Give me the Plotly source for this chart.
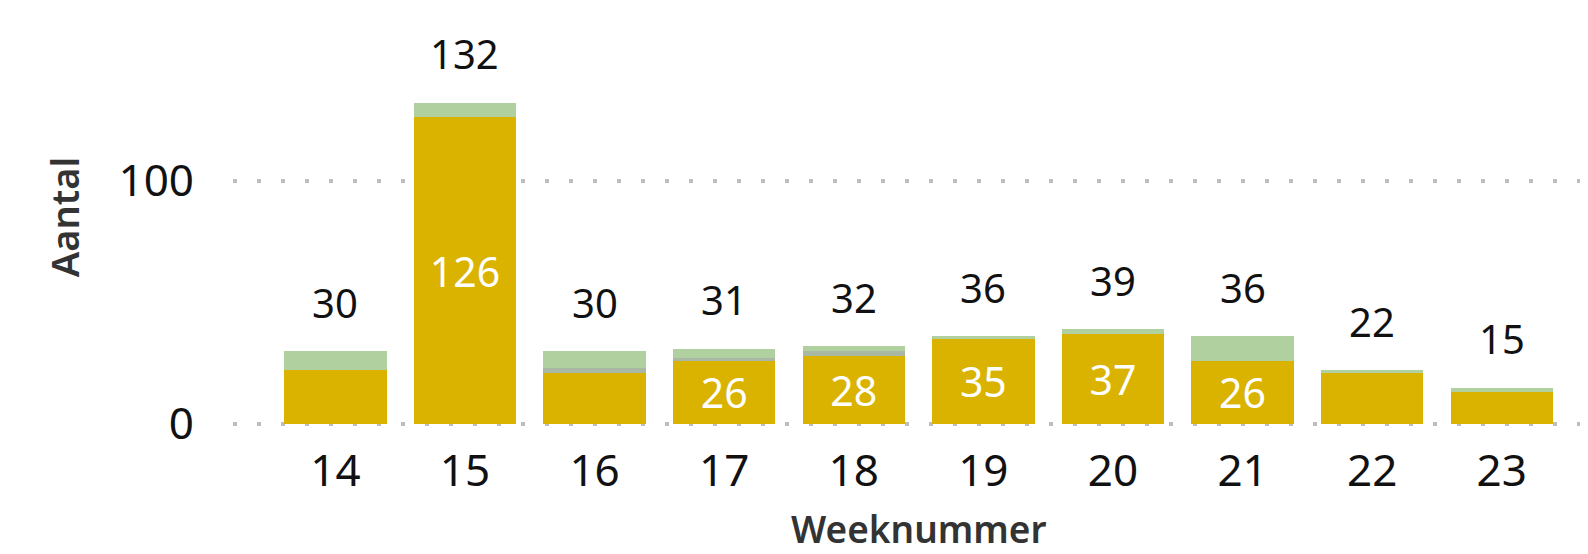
import plotly.graph_objects as go

weeks = ["14", "15", "16", "17", "18", "19", "20", "21", "22", "23"]
gold_vals = [22, 126, 21, 26, 28, 35, 37, 26, 21, 13]
gray_vals = [0, 0, 2, 1, 2, 0, 0, 0, 0, 0]
green_vals = [8, 6, 7, 4, 2, 1, 2, 10, 1, 2]
totals = [30, 132, 30, 31, 32, 36, 39, 36, 22, 15]

GOLD = "#D9B300"
GRAY = "#A8B8A4"
GREEN = "#B0D0A0"
FONT = "Segoe UI, Noto Sans, Open Sans, sans-serif"

gold_text = [str(v) if v >= 25 else "" for v in gold_vals]

fig = go.Figure()
fig.add_trace(go.Bar(x=weeks, y=gold_vals, marker=dict(color=GOLD, line=dict(width=0)),
                     text=gold_text, textposition="inside", insidetextanchor="middle",
                     constraintext="none",
                     textfont=dict(color="white", size=41, family=FONT), hoverinfo="skip"))
fig.add_trace(go.Bar(x=weeks, y=gray_vals, marker=dict(color=GRAY, line=dict(width=0)), hoverinfo="skip"))
fig.add_trace(go.Bar(x=weeks, y=green_vals, marker=dict(color=GREEN, line=dict(width=0)), hoverinfo="skip"))

for i, t in enumerate(totals):
    fig.add_annotation(x=i, y=t, xref="x", yref="y", text=str(t), showarrow=False,
                       yanchor="middle", yshift=49,
                       font=dict(size=40, color="#111111", family=FONT))

fig.add_annotation(x=0.507, y=-0.245, xref="paper", yref="paper", text="Weeknummer",
                   showarrow=False, xanchor="center", yanchor="middle", borderpad=0,
                   font=dict(size=37, color="#333333", family=FONT, weight=600))

fig.update_layout(
    barmode="stack", bargap=0.21, showlegend=False,
    width=1580, height=546, paper_bgcolor="white", plot_bgcolor="white",
    margin=dict(l=225, r=2, t=0, b=128, autoexpand=False),
    font=dict(family=FONT),
)
fig.update_xaxes(type="category", range=[-0.79, 9.65], showgrid=False, showline=False, ticks="",
                 automargin=False,
                 tickfont=dict(size=44, color="#111111", family=FONT), ticklabelstandoff=15)
fig.update_yaxes(range=[-0.82, 171.0], tickvals=[0, 100], showgrid=True, gridcolor="#BEBEBE", gridwidth=3.5,
                 griddash="3.5px,20.5px", zeroline=False, showline=False, ticks="", automargin=False,
                 tickfont=dict(size=44, color="#111111", family=FONT), ticklabelstandoff=38,
                 title=dict(text="Aantal", font=dict(size=38, color="#333333", family=FONT, weight=600),
                            standoff=27))

fig.write_html("out.html")
